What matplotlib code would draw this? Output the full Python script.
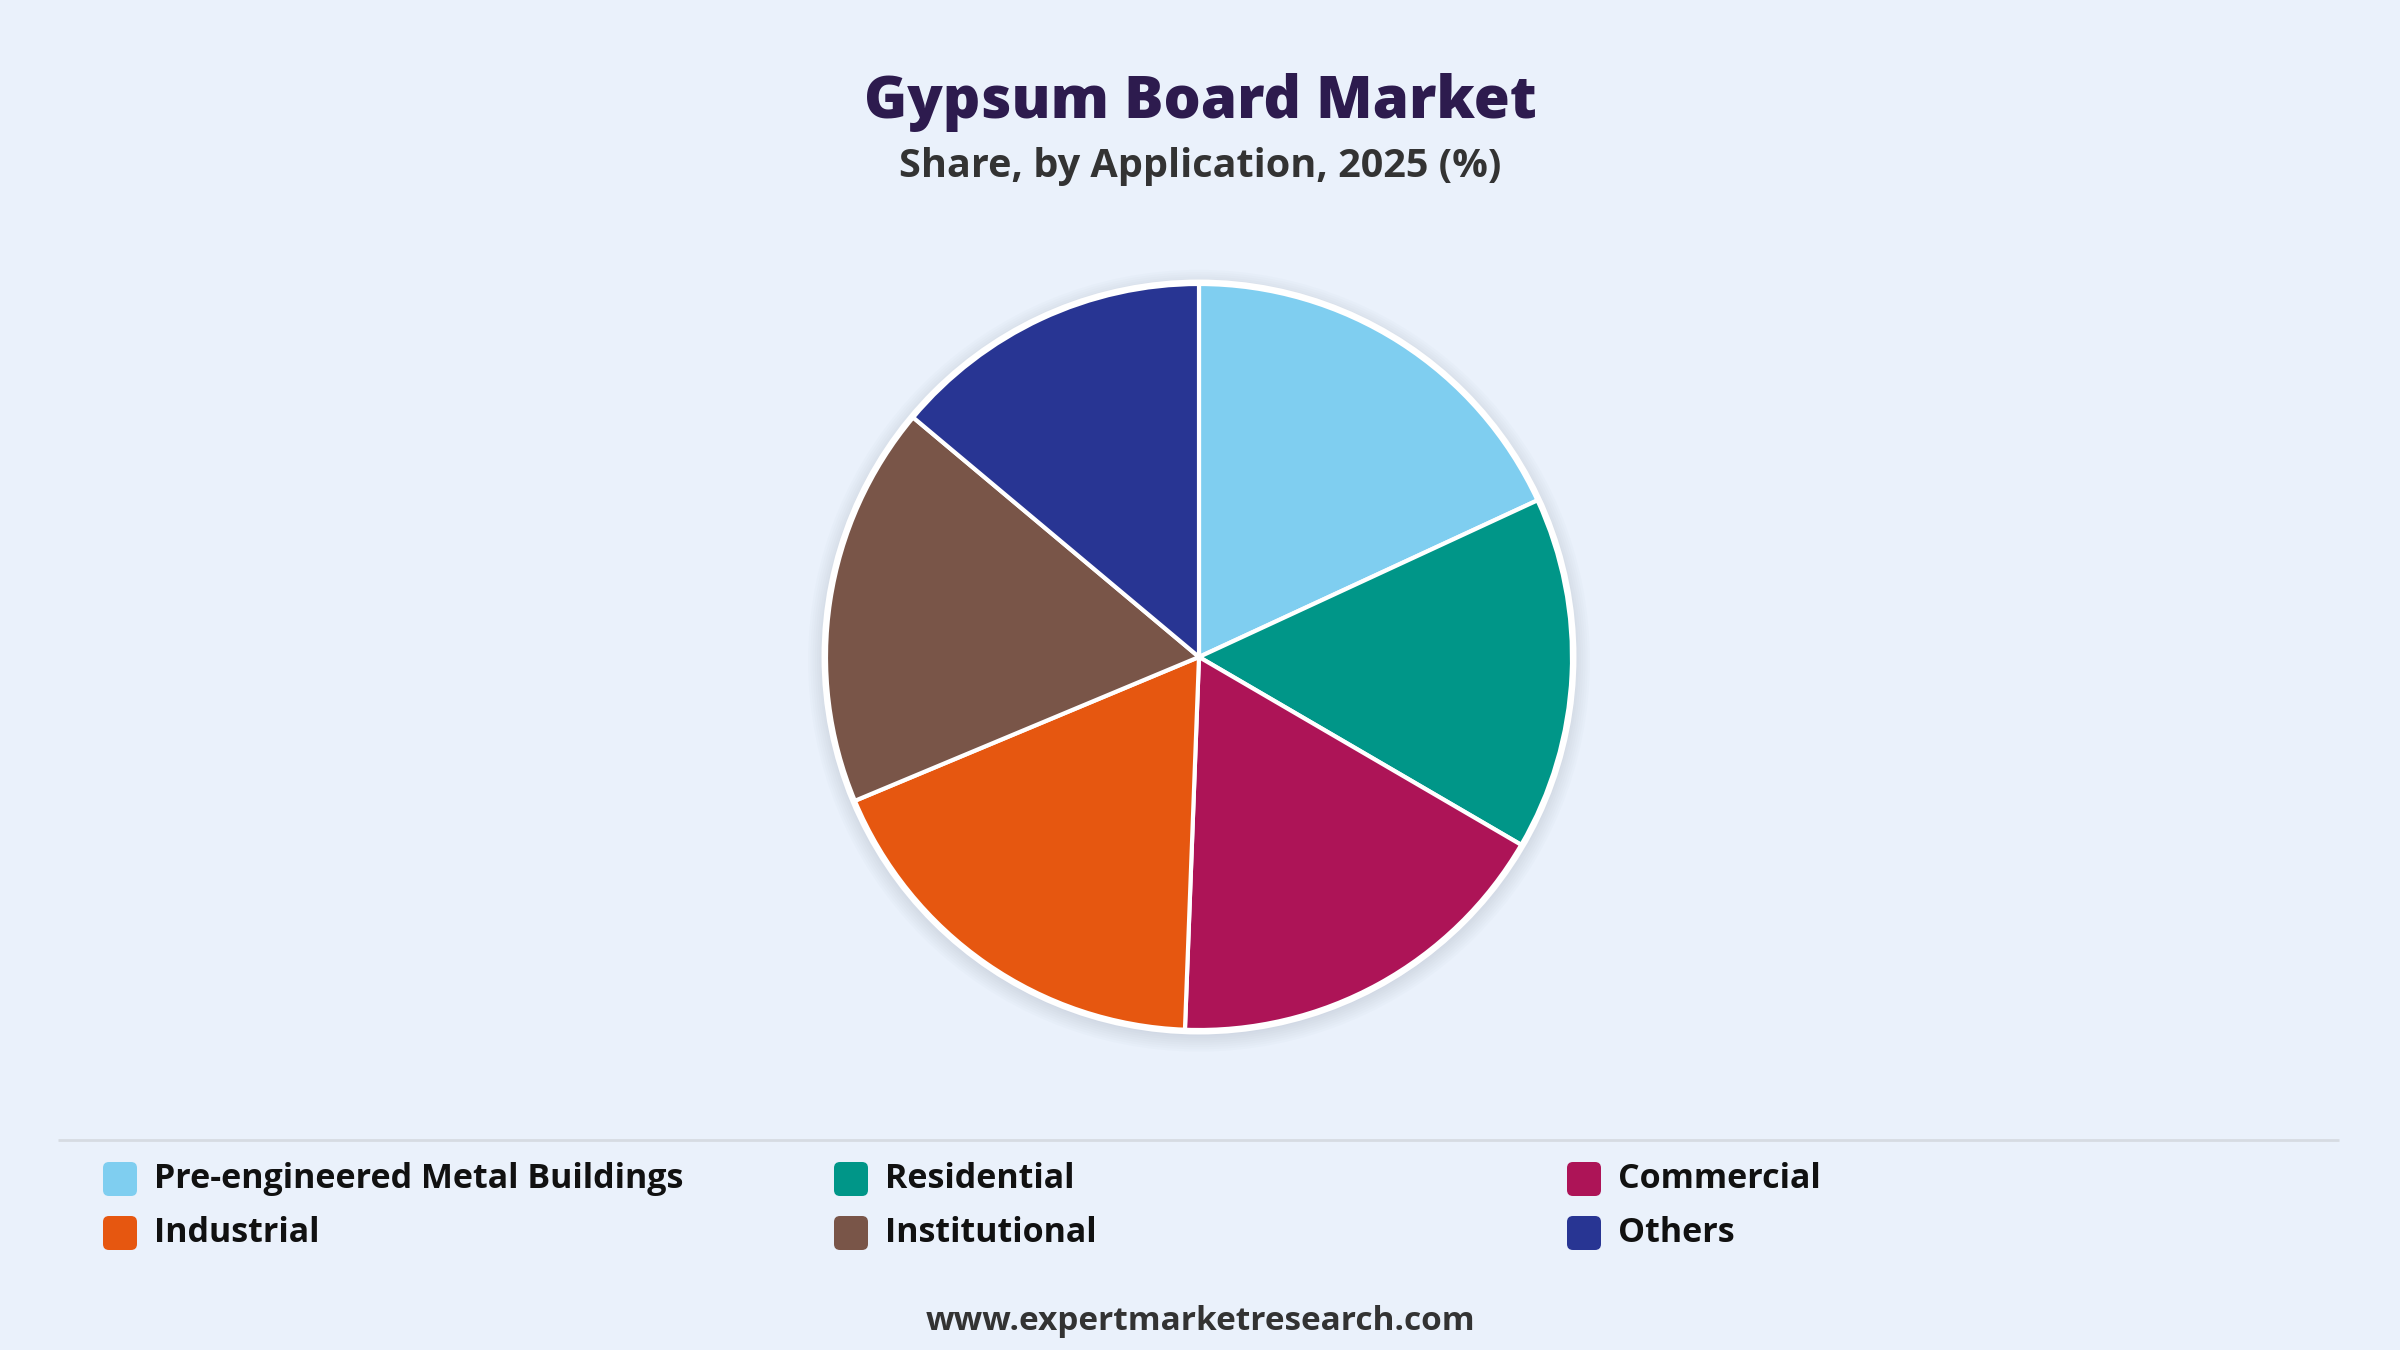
import matplotlib

matplotlib.use("Agg")
import matplotlib.pyplot as plt
from matplotlib.patches import Circle, FancyBboxPatch

plt.rcParams["font.family"] = ["Open Sans", "DejaVu Sans"]

# share by application, 2025 (%)
categories = [
    "Pre-engineered Metal Buildings",
    "Residential",
    "Commercial",
    "Industrial",
    "Institutional",
    "Others",
]
shares = [18.1, 15.3, 17.2, 18.1, 17.4, 13.9]
colors = ["#7fcef0", "#009688", "#ad1457", "#e65710", "#795548", "#283593"]

title = "Gypsum Board Market"
subtitle = "Share, by Application, 2025 (%)"
footer = "www.expertmarketresearch.com"

W, H = 2400, 1350
BG = "#eaf1fb"

fig = plt.figure(figsize=(W / 100, H / 100), dpi=100, facecolor=BG)

# pie axes: centre (1199, 657), radius 373 px, a little margin for the shadow
cx, cy, r_px = 1199, 657, 373
pad = 1.1
half = r_px * pad
ax = fig.add_axes([(cx - half) / W, 1 - (cy + half) / H, 2 * half / W, 2 * half / H])
ax.set_facecolor(BG)
ax.axis("off")

for k in range(8):
    ax.add_patch(Circle((0.0, -0.01), 1.0 + 0.006 * (k + 1), facecolor="#8a97ab", alpha=0.03, lw=0, zorder=0))
ax.add_patch(Circle((0.0, 0.0), 1.012, facecolor="white", lw=0, zorder=1))

wedges, _ = ax.pie(
    shares,
    colors=colors,
    startangle=90,
    counterclock=False,
    radius=1.0,
    wedgeprops={"edgecolor": "white", "linewidth": 3.0},
)
for w in wedges:
    w.set_zorder(2)
ax.set_xlim(-pad, pad)
ax.set_ylim(-pad, pad)
ax.set_aspect("equal")

# overlay in pixel coordinates for text, separator and legend
ov = fig.add_axes([0, 0, 1, 1], facecolor="none")
ov.set_xlim(0, W)
ov.set_ylim(H, 0)
ov.axis("off")

ov.text(W / 2, 102, title, ha="center", va="center", fontsize=42, fontweight="heavy", color="#2d1b4e")
ov.text(W / 2, 167, subtitle, ha="center", va="center", fontsize=28.5, fontweight="bold", color="#333333")

ov.plot([58, 2339], [1140, 1140], color="#d6dbe2", lw=2, solid_capstyle="butt")

col_x = [103, 834, 1567]
row_y = [1179, 1233]
box = 34
for i, (name, color) in enumerate(zip(categories, colors)):
    x = col_x[i % 3]
    y = row_y[i // 3]
    ov.add_patch(
        FancyBboxPatch(
            (x, y - box / 2), box, box,
            boxstyle="round,pad=0,rounding_size=6",
            facecolor=color, edgecolor="none",
        )
    )
    ov.text(x + box + 17, y, name, ha="left", va="center", fontsize=24.5, fontweight="bold", color="#111111")

ov.text(W / 2, 1322, footer, ha="center", va="center", fontsize=24, fontweight="bold", color="#333333")

fig.savefig("out.png", dpi=100, facecolor=BG)
